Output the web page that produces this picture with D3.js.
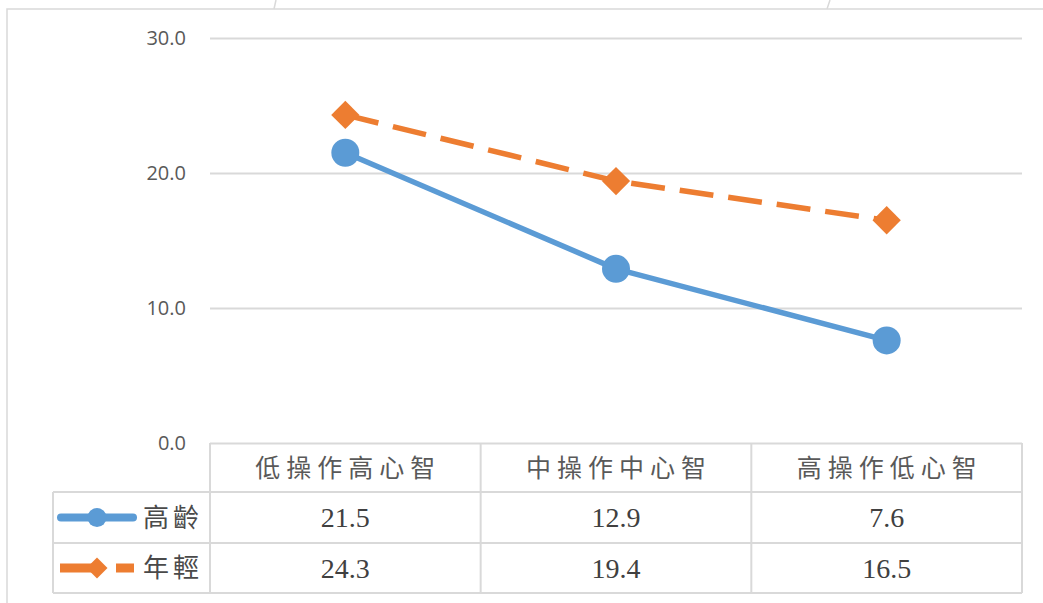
<!DOCTYPE html>
<html>
<head>
<meta charset="utf-8">
<script src="https://cdn.jsdelivr.net/npm/d3@7"></script>
<style>
  html, body { margin: 0; padding: 0; background: #fff; }
  svg { display: block; }
</style>
</head>
<body>
<svg id="chart"></svg>
<script>
// chart data
const categories = ["低操作高心智", "中操作中心智", "高操作低心智"];
const seriesNames = ["高齡", "年輕"];
const elderValues = [21.5, 12.9, 7.6];
const youngValues = [24.3, 19.4, 16.5];
const yTicks = [0, 10, 20, 30];

const width = 1043;
const height = 603;

const svg = d3.select("#chart")
    .attr("width", width)
    .attr("height", height);

const gridColor = "#d9d9d9";
const blue = "#5b9bd5";
const orange = "#ed7d31";
const cjkFont = "'Noto Sans CJK TC', 'Noto Sans CJK SC', sans-serif";

// outer chart frame (only left/top visible)
svg.append("path")
    .attr("d", "M7,603 L7,9 L1043,9")
    .attr("fill", "none")
    .attr("stroke", gridColor)
    .attr("stroke-width", 1.5);

// bits of shapes above the chart
svg.append("line").attr("x1", 276).attr("y1", 0).attr("x2", 274).attr("y2", 9)
    .attr("stroke", gridColor).attr("stroke-width", 1.5);
svg.append("line").attr("x1", 830).attr("y1", 0).attr("x2", 827).attr("y2", 9)
    .attr("stroke", gridColor).attr("stroke-width", 1.5);

// scales
const x = d3.scaleBand()
    .domain(categories)
    .range([210, 1022]);

const y = d3.scaleLinear()
    .domain([0, 30])
    .range([443, 38]);

// gridlines
const yAxis = d3.axisLeft(y)
    .tickValues(yTicks)
    .tickSize(-(1022 - 210))
    .tickPadding(24)
    .tickFormat(d3.format(".1f"));

const axisG = svg.append("g")
    .attr("transform", "translate(210,0)")
    .call(yAxis);

axisG.select(".domain").remove();
axisG.selectAll(".tick line")
    .attr("stroke", gridColor)
    .attr("stroke-width", 2);
axisG.selectAll(".tick text")
    .attr("fill", "#595959")
    .attr("font-family", "'Open Sans', sans-serif")
    .attr("font-size", 20)
    .attr("dy", "0.34em");

// data table
const rowTop = 443, headerBottom = 492, row1Bottom = 543, row2Bottom = 593;
const legendLeft = 53;
const table = svg.append("g").attr("stroke", gridColor).attr("stroke-width", 2);

[headerBottom, row1Bottom, row2Bottom].forEach(yy => {
    table.append("line").attr("x1", legendLeft).attr("x2", 1022).attr("y1", yy).attr("y2", yy);
});
table.append("line").attr("x1", legendLeft).attr("x2", legendLeft)
    .attr("y1", headerBottom).attr("y2", row2Bottom);
categories.forEach(c => {
    table.append("line").attr("x1", x(c)).attr("x2", x(c)).attr("y1", rowTop).attr("y2", row2Bottom);
});
table.append("line").attr("x1", 1022).attr("x2", 1022).attr("y1", rowTop).attr("y2", row2Bottom);

// header labels
svg.append("g").selectAll("text")
    .data(categories)
    .enter().append("text")
    .attr("x", d => x(d) + x.bandwidth() / 2 + 3)
    .attr("y", (rowTop + headerBottom) / 2)
    .attr("dy", "0.36em")
    .attr("text-anchor", "middle")
    .attr("font-family", cjkFont)
    .attr("font-size", 25)
    .attr("letter-spacing", 6)
    .attr("fill", "#595959")
    .text(d => d);

// value rows
const rows = [
    { name: seriesNames[0], values: elderValues, top: headerBottom, bottom: row1Bottom },
    { name: seriesNames[1], values: youngValues, top: row1Bottom, bottom: row2Bottom }
];

rows.forEach(r => {
    const cy = (r.top + r.bottom) / 2;
    svg.append("g").selectAll("text")
        .data(r.values)
        .enter().append("text")
        .attr("x", (d, i) => x(categories[i]) + x.bandwidth() / 2)
        .attr("y", cy)
        .attr("dy", "0.35em")
        .attr("text-anchor", "middle")
        .attr("font-family", "'Liberation Serif', 'Times New Roman', serif")
        .attr("font-size", 28)
        .attr("fill", "#404040")
        .text(d => d.toFixed(1));

    svg.append("text")
        .attr("x", 143)
        .attr("y", cy)
        .attr("dy", "0.36em")
        .attr("font-family", cjkFont)
        .attr("font-size", 26)
        .attr("letter-spacing", 4)
        .attr("fill", "#4a4a4a")
        .text(r.name);
});

// legend keys inside the table
const key1 = (headerBottom + row1Bottom) / 2;
const key2 = (row1Bottom + row2Bottom) / 2;
svg.append("line").attr("x1", 61).attr("x2", 133).attr("y1", key1).attr("y2", key1)
    .attr("stroke", blue).attr("stroke-width", 8).attr("stroke-linecap", "round");
svg.append("circle").attr("cx", 97).attr("cy", key1).attr("r", 9.5).attr("fill", blue);

svg.append("line").attr("x1", 60).attr("x2", 97).attr("y1", key2).attr("y2", key2)
    .attr("stroke", orange).attr("stroke-width", 9);
svg.append("line").attr("x1", 116).attr("x2", 134).attr("y1", key2).attr("y2", key2)
    .attr("stroke", orange).attr("stroke-width", 9);
svg.append("path")
    .attr("d", d3.symbol().type(d3.symbolSquare).size(220))
    .attr("transform", `translate(97,${key2}) rotate(45)`)
    .attr("fill", orange);

// lines
const cx = (d, i) => x(categories[i]) + x.bandwidth() / 2;
const line = d3.line()
    .x(cx)
    .y(d => y(d));

svg.append("path")
    .datum(youngValues)
    .attr("d", line)
    .attr("fill", "none")
    .attr("stroke", orange)
    .attr("stroke-width", 5.5)
    .attr("stroke-dasharray", "34,15");

svg.append("path")
    .datum(elderValues)
    .attr("d", line)
    .attr("fill", "none")
    .attr("stroke", blue)
    .attr("stroke-width", 5.5)
    .attr("stroke-linejoin", "round");

// markers
svg.append("g").selectAll("path")
    .data(youngValues)
    .enter().append("path")
    .attr("d", d3.symbol().type(d3.symbolSquare).size(400))
    .attr("transform", (d, i) => `translate(${cx(d, i)},${y(d)}) rotate(45)`)
    .attr("fill", orange);

svg.append("g").selectAll("circle")
    .data(elderValues)
    .enter().append("circle")
    .attr("cx", cx)
    .attr("cy", d => y(d))
    .attr("r", 14)
    .attr("fill", blue);
</script>
</body>
</html>
